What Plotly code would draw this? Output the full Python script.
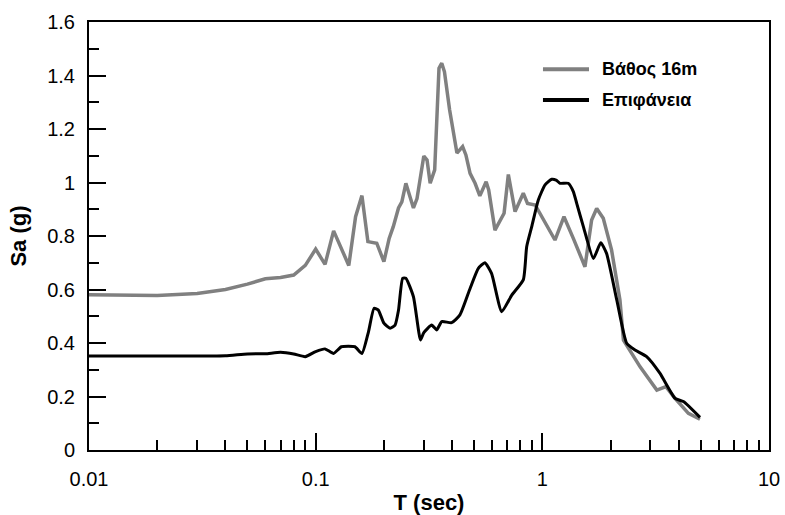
import plotly.graph_objects as go

# Period (s) and spectral acceleration (g) — depth 16 m
T_depth = [0.01, 0.02, 0.03, 0.04, 0.05, 0.06, 0.07, 0.08, 0.09, 0.1, 0.11, 0.12, 0.14, 0.15,
           0.16, 0.17, 0.186, 0.2, 0.211, 0.22, 0.232, 0.24, 0.25, 0.27, 0.28, 0.30, 0.31,
           0.32, 0.335, 0.35, 0.36, 0.37, 0.39, 0.42, 0.445, 0.46, 0.48, 0.505, 0.53, 0.565,
           0.58, 0.618, 0.678, 0.708, 0.758, 0.824, 0.86, 0.93, 1.137, 1.246, 1.37, 1.542,
           1.65, 1.737, 1.857, 2.02, 2.2, 2.28, 2.7, 3.2, 3.51, 3.85, 4.41, 4.96]
Sa_depth = [0.58, 0.578, 0.585, 0.60, 0.62, 0.64, 0.645, 0.654, 0.69, 0.751, 0.694, 0.819, 0.69,
            0.872, 0.951, 0.779, 0.773, 0.704, 0.791, 0.835, 0.905, 0.928, 0.997, 0.905, 0.94,
            1.099, 1.084, 0.997, 1.047, 1.427, 1.446, 1.414, 1.271, 1.11, 1.134, 1.103, 1.034,
            0.997, 0.95, 1.003, 0.972, 0.822, 0.885, 1.03, 0.891, 0.96, 0.922, 0.916, 0.785,
            0.872, 0.791, 0.685, 0.86, 0.903, 0.866, 0.748, 0.561, 0.411, 0.311, 0.224, 0.237,
            0.193, 0.137, 0.115]

# Surface
T_surf = [0.01, 0.02, 0.03, 0.04, 0.05, 0.06, 0.07, 0.08, 0.09, 0.1, 0.11, 0.12, 0.13, 0.149,
          0.16, 0.171, 0.181, 0.189, 0.2, 0.213, 0.224, 0.232, 0.242, 0.25, 0.27, 0.29, 0.30,
          0.325, 0.342, 0.36, 0.398, 0.433, 0.48, 0.522, 0.558, 0.597, 0.662, 0.733, 0.824,
          0.853, 0.898, 0.96, 1.028, 1.10, 1.15, 1.197, 1.30, 1.37, 1.418, 1.517, 1.68, 1.81,
          1.92, 2.13, 2.356, 2.564, 2.885, 3.30, 3.85, 4.19, 4.96]
Sa_surf = [0.351, 0.351, 0.351, 0.352, 0.359, 0.36, 0.365, 0.359, 0.349, 0.368, 0.378, 0.361,
           0.386, 0.386, 0.361, 0.442, 0.53, 0.523, 0.474, 0.455, 0.467, 0.523, 0.642, 0.642,
           0.573, 0.411, 0.439, 0.467, 0.449, 0.48, 0.476, 0.505, 0.604, 0.679, 0.70, 0.66,
           0.517, 0.579, 0.636, 0.76, 0.835, 0.935, 0.991, 1.012, 1.009, 0.997, 0.997, 0.966,
           0.922, 0.835, 0.716, 0.775, 0.735, 0.561, 0.399, 0.374, 0.349, 0.287, 0.193, 0.181,
           0.122]

series_names = ["Βάθος 16m", "Επιφάνεια"]
series_colors = ["#808080", "#000000"]

x_major = [0.01, 0.1, 1, 10]
x_major_text = ["0.01", "0.1", "1", "10"]
x_minor = [m * d for d in (0.01, 0.1, 1) for m in range(2, 10)]
y_major = [0, 0.2, 0.4, 0.6, 0.8, 1.0, 1.2, 1.4, 1.6]
y_major_text = ["0", "0.2", "0.4", "0.6", "0.8", "1", "1.2", "1.4", "1.6"]

FONT = "Liberation Sans, Arial, sans-serif"

fig = go.Figure()
fig.add_trace(go.Scatter(x=T_depth, y=Sa_depth, mode="lines", name=series_names[0],
                         line=dict(color=series_colors[0], width=3.5), showlegend=False))
fig.add_trace(go.Scatter(x=T_surf, y=Sa_surf, mode="lines", name=series_names[1],
                         line=dict(color=series_colors[1], width=3, shape="spline", smoothing=0.5),
                         showlegend=False))

# Legend keys (drawn in paper coordinates, legend styling only)
legend_rows_y = [0.8895, 0.8178]
shapes = []
annotations = []
for name, color, yy in zip(series_names, series_colors, legend_rows_y):
    shapes.append(dict(type="line", xref="paper", yref="paper", x0=0.6676, x1=0.7353,
                       y0=yy, y1=yy, line=dict(color=color, width=4)))
    annotations.append(dict(xref="paper", yref="paper", x=0.7515, y=yy, xanchor="left",
                            yanchor="middle", showarrow=False, text="<b>" + name + "</b>",
                            font=dict(family=FONT, size=18, color="black")))

fig.update_layout(
    width=785, height=515,
    margin=dict(l=89, r=16, t=22, b=65, autoexpand=False),
    paper_bgcolor="white", plot_bgcolor="white",
    font=dict(family=FONT, color="black", size=20),
    shapes=shapes, annotations=annotations,
    xaxis=dict(type="log", range=[-2, 1], tickvals=x_major, ticktext=x_major_text,
               ticks="inside", ticklen=17, tickwidth=2, tickcolor="black",
               showline=True, linecolor="black", linewidth=2, mirror=True,
               showgrid=False, zeroline=False, ticklabelstandoff=10, automargin=False,
               tickfont=dict(size=20),
               minor=dict(tickvals=x_minor, ticks="inside", ticklen=10, tickwidth=2,
                          tickcolor="black", showgrid=False),
               title=dict(text="<b>T (sec)</b>", font=dict(size=22), standoff=19)),
    yaxis=dict(range=[0, 1.6], tickvals=y_major, ticktext=y_major_text,
               ticks="inside", ticklen=17, tickwidth=2, tickcolor="black",
               showline=True, linecolor="black", linewidth=2, mirror=True,
               showgrid=False, zeroline=False, ticklabelstandoff=8, automargin=False,
               tickfont=dict(size=20),
               minor=dict(dtick=0.1, ticks="inside", ticklen=10, tickwidth=2,
                          tickcolor="black", showgrid=False),
               title=dict(text="<b>Sa (g)</b>", font=dict(size=22), standoff=14)),
)

fig.write_html("out.html")
